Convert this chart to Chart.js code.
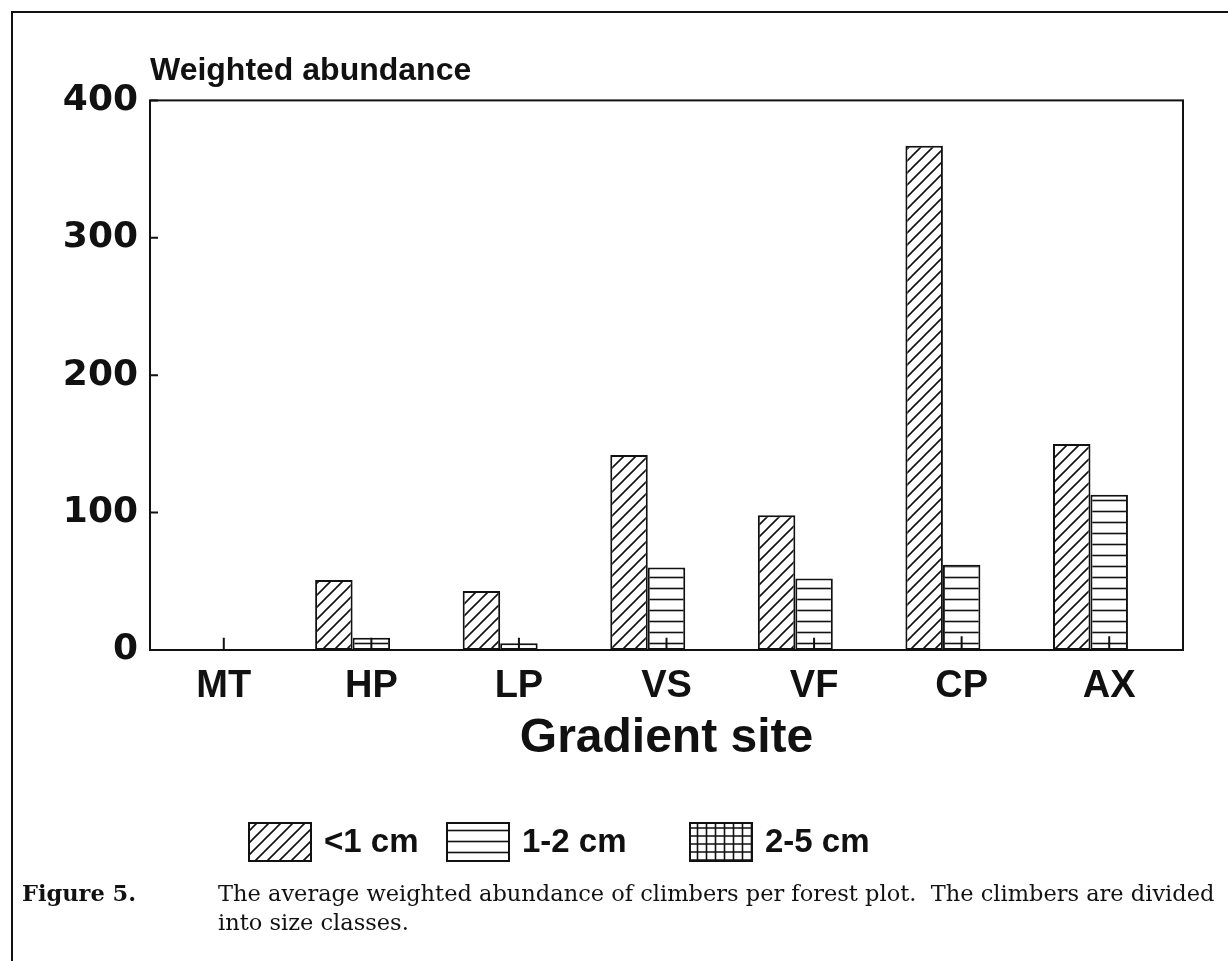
<!DOCTYPE html>
<html>
<head>
<meta charset="utf-8">
<script src="https://cdn.jsdelivr.net/npm/chart.js@4.4.0/dist/chart.umd.min.js"></script>
<style>
  html, body { margin: 0; padding: 0; background: #fff; }
  #page { position: relative; width: 1228px; height: 961px; overflow: hidden; background: #fff; }
  #frame { position: absolute; left: 11px; top: 11px; width: 1240px; height: 980px;
           border-left: 2px solid #111; border-top: 2px solid #111; }
  #chartBox { position: absolute; left: 0; top: 0; width: 1228px; height: 880px; }
  .cap { position: absolute; font-family: 'DejaVu Serif', 'Liberation Serif', serif;
         font-size: 22.5px; color: #111; line-height: 29px; }
  #figNo { left: 22px; top: 879px; font-weight: bold; }
  #figText { left: 218px; top: 879px; width: 1010px; white-space: nowrap; }
</style>
</head>
<body>
<div id="page">
  <div id="frame"></div>
  <div id="chartBox"><canvas id="chartClimbers"></canvas></div>
  <div class="cap" id="figNo">Figure 5.</div>
  <div class="cap" id="figText">The average weighted abundance of climbers per forest plot.&nbsp; The climbers are divided<br>into size classes.</div>
</div>

<script>
// gradient sites (x axis)
const sites = ['MT', 'HP', 'LP', 'VS', 'VF', 'CP', 'AX'];

// weighted abundance per size class
const under1cm = [0, 51, 43, 142, 98, 367, 150];
const from1to2cm = [0, 9, 5, 60, 52, 62, 113];
const from2to5cm = [9, 9, 9, 9, 9, 10, 10];

const sizeLabels = ['<1 cm', '1-2 cm', '2-5 cm'];
const yTicks = [0, 100, 200, 300, 400];

const INK = '#111';
const SANS = '"Liberation Sans", Arial, sans-serif';

// --- fill patterns ---
function makePattern(w, h, draw) {
    const c = document.createElement('canvas');
    c.width = w; c.height = h;
    const g = c.getContext('2d');
    g.fillStyle = '#fff';
    g.fillRect(0, 0, w, h);
    g.strokeStyle = INK;
    g.lineWidth = 1.6;
    draw(g, w, h);
    return g.createPattern(c, 'repeat');
}

const hatch = makePattern(12, 12, (g, w, h) => {
    g.beginPath();
    g.moveTo(0, h); g.lineTo(w, 0);
    g.moveTo(-2, 2); g.lineTo(2, -2);
    g.moveTo(w - 2, h + 2); g.lineTo(w + 2, h - 2);
    g.stroke();
});

const hlines = makePattern(12, 11, (g, w, h) => {
    g.beginPath();
    g.moveTo(0, 5.5); g.lineTo(w, 5.5);
    g.stroke();
});

const grid = makePattern(9, 8, (g, w, h) => {
    g.beginPath();
    g.moveTo(0, 4); g.lineTo(w, 4);
    g.moveTo(4.5, 0); g.lineTo(4.5, h);
    g.stroke();
});

const swatches = [hatch, hlines, grid];

// plot frame + inward tick marks on the y axis
const framePlugin = {
    id: 'plotFrame',
    afterDatasetsDraw(chart) {
        const { ctx, chartArea: a, scales } = chart;
        ctx.save();
        ctx.strokeStyle = INK;
        ctx.lineWidth = 2;
        ctx.strokeRect(a.left, a.top, a.right - a.left, a.bottom - a.top);
        ctx.beginPath();
        yTicks.forEach(v => {
            const y = scales.y.getPixelForValue(v);
            ctx.moveTo(a.left, y);
            ctx.lineTo(a.left + 8, y);
        });
        ctx.stroke();
        ctx.restore();
    }
};

// legend row under the axis title, with the pattern swatches
const legendX = [249, 447, 690];
const legendPlugin = {
    id: 'patternLegend',
    afterDraw(chart) {
        const ctx = chart.ctx;
        const boxW = 62, boxH = 38, cy = 842;
        ctx.save();
        ctx.font = 'bold 33px ' + SANS;
        ctx.textBaseline = 'middle';
        sizeLabels.forEach((lbl, i) => {
            const x = legendX[i];
            ctx.fillStyle = swatches[i];
            ctx.fillRect(x, cy - boxH / 2, boxW, boxH);
            ctx.strokeStyle = INK;
            ctx.lineWidth = 2;
            ctx.strokeRect(x, cy - boxH / 2, boxW, boxH);
            ctx.fillStyle = INK;
            ctx.fillText(lbl, x + boxW + 13, cy + 1);
        });
        ctx.restore();
    }
};

const chart = new Chart(document.getElementById('chartClimbers'), {
    type: 'bar',
    data: {
        labels: sites,
        datasets: [
            {
                label: sizeLabels[0],
                data: under1cm,
                backgroundColor: hatch,
                borderColor: INK,
                borderWidth: 2,
                borderSkipped: false,
                order: 1
            },
            {
                label: sizeLabels[1],
                data: from1to2cm,
                backgroundColor: hlines,
                borderColor: INK,
                borderWidth: 2,
                borderSkipped: false,
                order: 1
            },
            {
                // empty third slot so the 1-2 cm bar sits on the site centre
                label: '',
                data: [],
                order: 1
            },
            {
                label: sizeLabels[2],
                data: from2to5cm,
                backgroundColor: INK,
                borderWidth: 0,
                grouped: false,
                maxBarThickness: 2,
                order: 0
            }
        ]
    },
    options: {
        responsive: true,
        maintainAspectRatio: false,
        animation: false,
        categoryPercentage: 0.762,
        barPercentage: 1.0,
        layout: { padding: { top: 52, left: 0, right: 45, bottom: 112 } },
        plugins: {
            legend: { display: false },
            tooltip: { enabled: false },
            title: {
                display: true,
                text: 'Weighted abundance',
                align: 'start',
                fullSize: false,
                color: INK,
                font: { family: SANS, size: 32, weight: 'bold' },
                padding: { top: 0, bottom: 10 }
            }
        },
        scales: {
            x: {
                afterFit(scale) { scale.height = 118; },
                grid: { display: false, drawTicks: false },
                border: { display: false },
                ticks: {
                    color: INK,
                    padding: 18,
                    font: { family: SANS, size: 38, weight: 'bold', lineHeight: 1.0 }
                },
                title: {
                    display: true,
                    text: 'Gradient site',
                    color: INK,
                    font: { family: SANS, size: 48, weight: 'bold', lineHeight: 1.0 },
                    padding: { top: 0, bottom: 5 }
                }
            },
            y: {
                min: 0,
                max: 400,
                afterFit(scale) { scale.width = 150; },
                grid: { display: false, drawTicks: false },
                border: { display: false },
                ticks: {
                    stepSize: 100,
                    color: INK,
                    padding: 12,
                    font: { family: '"DejaVu Sans", sans-serif', size: 36, weight: 'bold' }
                }
            }
        }
    },
    plugins: [framePlugin, legendPlugin]
});
</script>
</body>
</html>
